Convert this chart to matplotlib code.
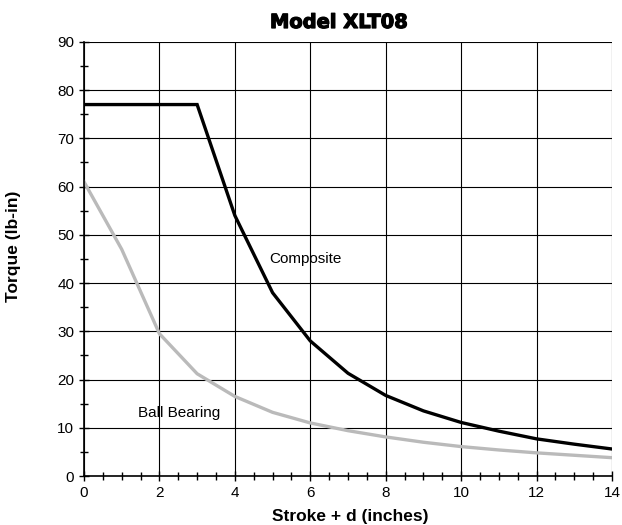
import matplotlib
matplotlib.use('Agg')
import matplotlib.pyplot as plt
import matplotlib.patheffects as pe
from matplotlib.ticker import MultipleLocator

# data
stroke = [0, 1, 2, 3, 4, 5, 6, 7, 8, 9, 10, 11, 12, 13, 14]
composite = [77, 77, 77, 77, 54, 38, 28, 21.3, 16.7, 13.5, 11.1, 9.3, 7.7, 6.6, 5.6]
ball_bearing = [61, 47, 29.5, 21.2, 16.5, 13.2, 11, 9.4, 8.1, 7.0, 6.1, 5.4, 4.8, 4.3, 3.8]

plt.rcParams['font.family'] = ['Liberation Sans', 'DejaVu Sans']

fig = plt.figure(figsize=(6.22, 5.25), dpi=100)
ax = fig.add_axes([0.135, 0.0933, 0.849, 0.827])

ax.plot(stroke, composite, color='black', lw=2.4, solid_joinstyle='miter')
ax.plot(stroke, ball_bearing, color='#bababa', lw=2.4, solid_joinstyle='miter')

# curve labels
ax.text(4.91, 44.2, 'Composite', fontsize=11, va='baseline')
ax.text(1.43, 12.2, 'Ball Bearing', fontsize=11, va='baseline')

ax.set_xlim(0, 14)
ax.set_ylim(0, 90)
ax.xaxis.set_major_locator(MultipleLocator(2))
ax.xaxis.set_minor_locator(MultipleLocator(0.5))
ax.yaxis.set_major_locator(MultipleLocator(10))
ax.yaxis.set_minor_locator(MultipleLocator(5))

ax.grid(True, which='major', color='black', lw=0.8)
for s in ['top', 'right']:
    ax.spines[s].set_visible(False)
ax.spines['left'].set_linewidth(1.2)
ax.spines['bottom'].set_linewidth(1.2)
ax.tick_params(which='major', direction='inout', length=7, width=1, labelsize=11)
ax.tick_params(which='minor', direction='inout', length=6, width=1)
ax.tick_params(axis='x', pad=4)

# title and axis labels placed in figure pixels
fig.text(339 / 622, 1 - 28 / 525, 'Model XLT08', fontsize=14, fontweight='heavy',
         family='DejaVu Sans', ha='center', va='baseline',
         path_effects=[pe.withStroke(linewidth=0.9, foreground='black')])
fig.text(350 / 622, 1 - 521 / 525, 'Stroke + d (inches)', fontsize=12.5,
         fontweight='bold', ha='center', va='baseline')
fig.text(14 / 622, 1 - 246 / 525, 'Torque (lb-in)', fontsize=12.5,
         fontweight='bold', ha='center', va='center', rotation=90)

fig.savefig('out.png', dpi=100)
